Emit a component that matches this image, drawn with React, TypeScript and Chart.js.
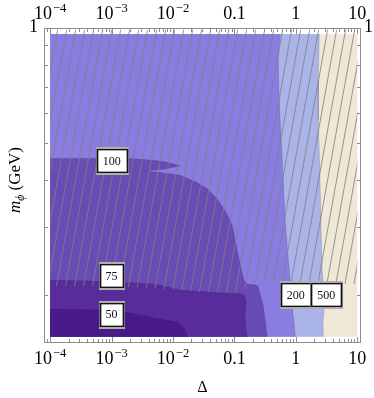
import React, { useEffect, useRef } from "react";
import { Chart, registerables } from "chart.js";
Chart.register(...registerables);

// ---- axis ranges (frame) ----
const X_MIN = 7.955e-5;
const X_MAX = 11.49;
const Y_MIN = 0.1493;
const Y_MAX = 1.0;

// ---- data extent of the contour map ----
const D_X0 = 1e-4;
const D_X1 = 10;
const D_Y0 = 0.155;
const D_Y1 = 0.965;

// ---- contour 500 (top -> bottom) ----
const c500X = [2.41, 2.32, 2.32, 2.455, 2.55, 2.7, 2.91, 2.85, 2.75, 2.8];
const c500Y = [0.965, 0.729, 0.573, 0.424, 0.313, 0.228, 0.1935, 0.179, 0.1664, 0.155];

// ---- contour 200 (top -> bottom) ----
const c200X = [0.556, 0.516, 0.536, 0.556, 0.611, 0.672, 0.738, 0.81, 0.89, 0.942, 0.978];
const c200Y = [0.965, 0.822, 0.646, 0.573, 0.424, 0.313, 0.257, 0.218, 0.182, 0.1664, 0.155];

// ---- contour 100 (left edge -> bottom edge) ----
const c100X = [1e-4, 6.45e-4, 1.99e-3, 4.21e-3, 7.4e-3, 1.3e-2, 7.4e-3, 3.49e-3, 6.14e-3, 1.3e-2, 2.29e-2, 3.72e-2, 5.42e-2, 7.32e-2, 8.51e-2, 9.17e-2, 9.89e-2, 0.111, 0.127, 0.144, 0.161, 0.202, 0.2435, 0.263, 0.294, 0.317, 0.3415];
const c100Y = [0.455, 0.455, 0.4545, 0.451, 0.446, 0.435, 0.427, 0.422, 0.418, 0.411, 0.396, 0.378, 0.3535, 0.329, 0.313, 0.304, 0.286, 0.2615, 0.236, 0.218, 0.213, 0.2124, 0.2105, 0.1994, 0.1877, 0.1715, 0.155];

// ---- contour 75 ----
const c75X = [1e-4, 4.43e-4, 2.9e-3, 6.14e-3, 8.94e-3, 1.3e-2, 4.02e-2, 0.1387, 0.1552, 0.1495, 0.1552, 0.161];
const c75Y = [0.2183, 0.217, 0.2144, 0.2118, 0.2086, 0.2055, 0.203, 0.2006, 0.1935, 0.1767, 0.1614, 0.155];

// ---- contour 50 ----
const c50X = [1e-4, 6.45e-4, 1.65e-3, 2.9e-3, 5.09e-3, 1.21e-2, 1.46e-2, 1.63e-2, 1.76e-2];
const c50Y = [0.1833, 0.1822, 0.1799, 0.1767, 0.1735, 0.1694, 0.1644, 0.1595, 0.155];

// ---- lower edge of the hatched region (left -> right) ----
const hatchX = [1e-4, 6.45e-4, 2.9e-3, 8.94e-3, 2.76e-2, 0.124, 0.161, 0.263, 0.81, 2.5, 10];
const hatchY = [0.2105, 0.2105, 0.2086, 0.2061, 0.203, 0.2018, 0.2105, 0.2144, 0.217, 0.2144, 0.213];
const HATCH_TOP = 0.99;

// ---- colours for regions ----
const colBeige = "#f0e8d7";
const colLight = "#aab4e8";
const colMain = "#897de1";
const col100 = "#694bb4";
const col75 = "#582d9b";
const col50 = "#4b1a8a";

// ---- ticks ----
const xMajorVals = [1e-4, 1e-3, 1e-2, 0.1, 1, 10];
const xMajorBase = ["10", "10", "10", "0.1", "1", "10"];
const xMajorExp = ["\u22124", "\u22123", "\u22122", "", "", ""];
const yMajorVals = [1];
const yMajorLabels = ["1"];
const yMinorVals = [0.2, 0.3, 0.4, 0.5, 0.6, 0.7, 0.8, 0.9];

// ---- contour labels ----
const lblText = ["100", "75", "50", "200", "500"];
const lblX = [1.01e-3, 1.0e-3, 1.0e-3, 1.0, 3.13];
const lblY = [0.4485, 0.2243, 0.1776, 0.2, 0.2];

const SERIF = "'Liberation Serif', 'Times New Roman', serif";

const zip = (xs: number[], ys: number[]) => xs.map((x, i) => ({ x, y: ys[i] }));

function makeHatch(): CanvasPattern | string {
  const c = document.createElement("canvas");
  c.width = 9;
  c.height = 50;
  const g = c.getContext("2d");
  if (!g) return "rgba(0,0,0,0)";
  g.strokeStyle = "rgba(128,128,128,0.9)";
  g.lineWidth = 0.9;
  for (const off of [-9, 0, 9]) {
    g.beginPath();
    g.moveTo(off, 50);
    g.lineTo(off + 9, 0);
    g.stroke();
  }
  return g.createPattern(c, "repeat") || "rgba(0,0,0,0)";
}

const framePlugin = {
  id: "mmaFrame",
  afterDatasetsDraw(chart: any) {
    const { ctx, chartArea: a, scales } = chart;
    const xs = scales.x;
    const ys = scales.y;
    ctx.save();
    // contour labels
    ctx.font = `12px ${SERIF}`;
    ctx.textAlign = "center";
    ctx.textBaseline = "middle";
    lblText.forEach((t, i) => {
      const cx = xs.getPixelForValue(lblX[i]);
      const cy = ys.getPixelForValue(lblY[i]);
      const w = t.length * 7 + 9;
      const h = 23;
      const l = Math.round(cx - w / 2) + 0.5;
      const tp = Math.round(cy - h / 2) + 0.5;
      ctx.fillStyle = "#ffffff";
      ctx.fillRect(l - 1, tp - 2, w + 2, h + 4);
      ctx.strokeStyle = "#b0b0b0";
      ctx.lineWidth = 1;
      ctx.strokeRect(l - 1, tp - 2, w + 2, h + 4);
      ctx.strokeStyle = "#111111";
      ctx.lineWidth = 1.7;
      ctx.strokeRect(l, tp, w, h);
      ctx.fillStyle = "#111";
      ctx.fillText(t, cx, cy + 1);
    });

    // frame
    ctx.strokeStyle = "#8c8c8c";
    ctx.lineWidth = 1;
    ctx.strokeRect(a.left + 0.5, a.top + 0.5, a.right - a.left - 1, a.bottom - a.top - 1);

    // x ticks
    const xTick = (v: number, len: number) => {
      const p = Math.round(xs.getPixelForValue(v)) + 0.5;
      if (p < a.left + 1 || p > a.right - 1) return;
      ctx.beginPath();
      ctx.moveTo(p, a.bottom);
      ctx.lineTo(p, a.bottom - len);
      ctx.moveTo(p, a.top);
      ctx.lineTo(p, a.top + len);
      ctx.stroke();
    };
    for (let e = -5; e <= 1; e++) {
      for (let k = 2; k <= 9; k++) xTick(k * Math.pow(10, e), 4);
    }
    xMajorVals.forEach((v) => xTick(v, 6));
    const yTick = (v: number, len: number) => {
      const p = Math.round(ys.getPixelForValue(v)) + 0.5;
      if (p < a.top + 1 || p > a.bottom - 1) return;
      ctx.beginPath();
      ctx.moveTo(a.left, p);
      ctx.lineTo(a.left + len, p);
      ctx.moveTo(a.right, p);
      ctx.lineTo(a.right - len, p);
      ctx.stroke();
    };
    yMinorVals.forEach((v) => yTick(v, 4));

    // x tick labels (bottom and top)
    ctx.fillStyle = "#000";
    ctx.textBaseline = "alphabetic";
    ctx.textAlign = "left";
    const drawLbl = (cx: number, base: number, b: string, ex: string) => {
      ctx.font = `18px ${SERIF}`;
      const w1 = ctx.measureText(b).width;
      ctx.font = `12.5px ${SERIF}`;
      const w2 = ex ? ctx.measureText(ex).width + 1 : 0;
      const x0 = cx - (w1 + w2) / 2;
      ctx.font = `18px ${SERIF}`;
      ctx.fillText(b, x0, base);
      if (ex) {
        ctx.font = `12.5px ${SERIF}`;
        ctx.fillText(ex, x0 + w1 + 1, base - 7);
      }
    };
    xMajorVals.forEach((v, i) => {
      const cx = xs.getPixelForValue(v);
      drawLbl(cx, 363.5, xMajorBase[i], xMajorExp[i]);
      drawLbl(cx, 18.5, xMajorBase[i], xMajorExp[i]);
    });
    // y labels
    ctx.font = `18px ${SERIF}`;
    yMajorVals.forEach((v, i) => {
      const p = ys.getPixelForValue(v);
      ctx.textAlign = "right";
      ctx.fillText(yMajorLabels[i], a.left - 6, p + 4);
      ctx.textAlign = "left";
      ctx.fillText(yMajorLabels[i], a.right + 3, p + 4);
    });

    // x title
    ctx.textAlign = "center";
    ctx.font = `16px ${SERIF}`;
    ctx.fillText("\u0394", (a.left + a.right) / 2, 392);

    // y title (rotated)
    const parts = [
      { t: "m", f: `italic 17px ${SERIF}`, dy: 0 },
      { t: "\u03d5", f: `italic 11.5px ${SERIF}`, dy: 4 },
      { t: " (GeV)", f: `17px ${SERIF}`, dy: 0 },
    ];
    let W = 0;
    parts.forEach((p) => {
      ctx.font = p.f;
      W += ctx.measureText(p.t).width;
    });
    ctx.translate(20, 180);
    ctx.rotate(-Math.PI / 2);
    ctx.textAlign = "left";
    let xx = -W / 2;
    parts.forEach((p) => {
      ctx.font = p.f;
      ctx.fillText(p.t, xx, p.dy);
      xx += ctx.measureText(p.t).width;
    });
    ctx.restore();
  },
};

export default function App() {
  const ref = useRef<HTMLCanvasElement | null>(null);
  useEffect(() => {
    if (!ref.current) return;
    const hatch = makeHatch();
    const region = (pts: { x: number; y: number }[], color: any) => ({
      data: pts,
      fill: "shape",
      backgroundColor: color,
      borderColor: "rgba(0,0,0,0)",
      borderWidth: 0,
      pointRadius: 0,
      tension: 0,
    });
    const cline = (xs: number[], ys: number[]) => ({
      data: zip(xs, ys),
      fill: false,
      borderColor: "rgba(40,20,80,0.22)",
      borderWidth: 0.7,
      pointRadius: 0,
      tension: 0,
    });
    const datasets: any[] = [
      region([...zip(hatchX, hatchY), { x: D_X1, y: HATCH_TOP }, { x: D_X0, y: HATCH_TOP }], hatch),
      cline(c50X, c50Y),
      cline(c75X, c75Y),
      cline(c100X, c100Y),
      cline(c200X, c200Y),
      cline(c500X, c500Y),
      region([{ x: D_X0, y: D_Y0 }, ...zip(c50X, c50Y)], col50),
      region([{ x: D_X0, y: D_Y0 }, ...zip(c75X, c75Y)], col75),
      region([{ x: D_X0, y: D_Y0 }, ...zip(c100X, c100Y)], col100),
      region([{ x: D_X0, y: D_Y0 }, { x: D_X0, y: D_Y1 }, ...zip(c200X, c200Y)], colMain),
      region([{ x: D_X0, y: D_Y0 }, { x: D_X0, y: D_Y1 }, ...zip(c500X, c500Y)], colLight),
      region(
        [
          { x: D_X0, y: D_Y0 },
          { x: D_X0, y: D_Y1 },
          { x: D_X1, y: D_Y1 },
          { x: D_X1, y: D_Y0 },
        ],
        colBeige
      ),
    ];
    const chart = new Chart(ref.current, {
      type: "line",
      data: { datasets },
      options: {
        responsive: false,
        animation: false,
        events: [],
        layout: { padding: { left: 44, right: 13, top: 28, bottom: 55 } },
        plugins: { legend: { display: false }, tooltip: { enabled: false } },
        scales: {
          x: { type: "logarithmic", display: false, min: X_MIN, max: X_MAX },
          y: { type: "logarithmic", display: false, min: Y_MIN, max: Y_MAX },
        },
      },
      plugins: [framePlugin],
    } as any);
    return () => chart.destroy();
  }, []);
  return (
    <div style={{ position: "absolute", left: 0, top: 0, width: 374, height: 398, background: "#fff" }}>
      <canvas ref={ref} width={374} height={398} style={{ display: "block" }} />
    </div>
  );
}
